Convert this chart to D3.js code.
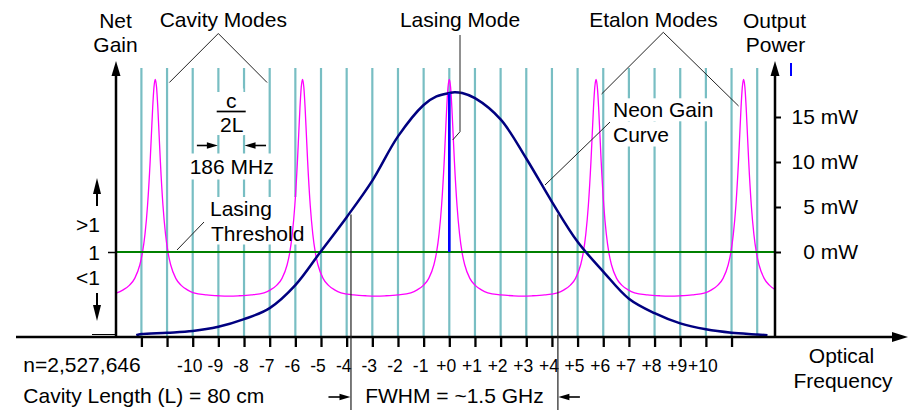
<!DOCTYPE html>
<html>
<head>
<meta charset="utf-8">
<script src="https://cdn.jsdelivr.net/npm/d3@7"></script>
<style>
  html, body { margin: 0; padding: 0; background: #fff; }
  svg { display: block; font-family: "Liberation Sans", Arial, Helvetica, sans-serif; }
</style>
</head>
<body>
<svg id="chart" width="914" height="410"></svg>
<script>
// ---- Data -------------------------------------------------------------
// Longitudinal cavity modes, numbered from the lasing mode
const modeNumbers = [-12, -11, -10, -9, -8, -7, -6, -5, -4, -3, -2, -1, 0,
                     1, 2, 3, 4, 5, 6, 7, 8, 9, 10, 11, 12];
const tickModes = [-12, -11, -10, -9, -8, -7, -6, -5, -4, -3, -2, -1, 0,
                   1, 2, 3, 4, 5, 6, 7, 8, 9, 10, 11];
const labelledModes = [-10, -9, -8, -7, -6, -5, -4, -3, -2, -1, 0,
                       1, 2, 3, 4, 5, 6, 7, 8, 9, 10];
const modeSpacingMHz = 186;
const fwhmGHz = 1.5;
const gainCentreMode = 0.2;
const lasingMode = 0;
const thresholdGain = 1;

// Neon gain curve (net gain, threshold = 1) sampled across the modes
const gainModes  = [-12.2, -12, -11, -10, -9, -8, -7, -6, -5, -4, -3, -2, -1, -0.5,
                    0, 0.2, 0.5, 1, 2, 3, 4, 5, 6, 7, 8, 9, 10, 11, 12, 12.4];
const gainValues = [0.02, 0.035, 0.05, 0.07, 0.12, 0.21, 0.34, 0.61, 1.01, 1.41, 1.84, 2.36, 2.73, 2.83,
                    2.87, 2.88, 2.87, 2.81, 2.56, 2.10, 1.59, 1.12, 0.77, 0.45, 0.28, 0.16, 0.09, 0.05, 0.03, 0.02];

// Etalon transmission: peak positions and one peak's profile (offset in modes -> level)
const etalonCentres = [-11.46, -5.72, 0, 5.72, 11.47];
const etalonOffsets = [0, 0.05, 0.1, 0.15, 0.2, 0.3, 0.4, 0.5, 0.6, 0.8, 1.0, 1.25, 1.5, 2.0, 2.5, 2.86];
const etalonLevels  = [3.03, 2.94, 2.70, 2.38, 2.06, 1.55, 1.21, 0.99, 0.85, 0.69, 0.61, 0.555, 0.52, 0.495, 0.485, 0.482];

// Output power axis
const powerTicks = [0, 5, 10, 15];

// ---- Layout -----------------------------------------------------------
const W = 914, H = 410;
const axisY = 337, gainAxisX = 116, powerAxisX = 775, modeTopY = 68;
const FONT = 21, TICK_FONT = 17.5;
const TEAL = "#78bec3", NAVY = "#000080", MAGENTA = "#ff00ff", GREEN = "#008000", BLUE = "#0000ff";

const x = d3.scaleLinear().domain([-12, 12]).range([141.4, 757.2]);
const yGain = d3.scaleLinear().domain([0, 1]).range([axisY, 252]);
const yPower = d3.scaleLinear().domain([0, 15]).range([252, 117]);

const svg = d3.select("#chart");
svg.append("rect").attr("width", W).attr("height", H).attr("fill", "#fff");

const gModes = svg.append("g");
const gMask = svg.append("g");
const gCurves = svg.append("g");
const gAxes = svg.append("g");
const gAnno = svg.append("g");
const gText = svg.append("g");

svg.append("defs").append("clipPath").attr("id", "plotClip")
  .append("rect").attr("x", gainAxisX).attr("y", 0)
  .attr("width", powerAxisX - gainAxisX).attr("height", axisY);

// ---- Cavity mode lines -----------------------------------------------
gModes.selectAll("line").data(modeNumbers).join("line")
  .attr("x1", d => x(d)).attr("x2", d => x(d))
  .attr("y1", axisY).attr("y2", modeTopY)
  .attr("stroke", TEAL).attr("stroke-width", 2.2);

// ---- Curves -----------------------------------------------------------
// Etalon modes
let etalonPts = [];
etalonCentres.forEach(c => {
  etalonOffsets.forEach((o, i) => {
    etalonPts.push([c - o, etalonLevels[i]]);
    if (o > 0) etalonPts.push([c + o, etalonLevels[i]]);
  });
});
etalonPts.sort((a, b) => a[0] - b[0]);
etalonPts = etalonPts.filter((p, i) => i === 0 || p[0] - etalonPts[i - 1][0] > 0.01);

const lineEtalon = d3.line().x(d => x(d[0])).y(d => yGain(d[1])).curve(d3.curveMonotoneX);
const lineGain = d3.line().x(d => x(d[0])).y(d => yGain(d[1])).curve(d3.curveCatmullRom.alpha(0.5));

gCurves.append("path")
  .attr("clip-path", "url(#plotClip)")
  .attr("d", lineEtalon(etalonPts))
  .attr("fill", "none").attr("stroke", MAGENTA).attr("stroke-width", 1.3);

// Lasing threshold
gCurves.append("line")
  .attr("x1", gainAxisX).attr("x2", powerAxisX)
  .attr("y1", yGain(thresholdGain)).attr("y2", yGain(thresholdGain))
  .attr("stroke", GREEN).attr("stroke-width", 2);

// Neon gain curve
gCurves.append("path")
  .attr("d", lineGain(gainModes.map((m, i) => [m, gainValues[i]])))
  .attr("fill", "none").attr("stroke", NAVY).attr("stroke-width", 2.5)
  .attr("stroke-linejoin", "round");

// Lasing mode: rises from threshold up to the gain curve
const lasingGain = gainValues[gainModes.indexOf(lasingMode)];
gCurves.append("line")
  .attr("x1", x(lasingMode)).attr("x2", x(lasingMode))
  .attr("y1", yGain(thresholdGain)).attr("y2", yGain(lasingGain))
  .attr("stroke", BLUE).attr("stroke-width", 2.6);

// ---- Axes ---------------------------------------------------------------
function arrow(g, x1, y1, x2, y2, headLen, headHalf, width, colour) {
  const c = colour || "#000";
  const len = Math.hypot(x2 - x1, y2 - y1);
  const ux = (x2 - x1) / len, uy = (y2 - y1) / len;
  const bx = x2 - ux * headLen, by = y2 - uy * headLen;
  g.append("line").attr("x1", x1).attr("y1", y1).attr("x2", bx + ux).attr("y2", by + uy)
    .attr("stroke", c).attr("stroke-width", width);
  g.append("path")
    .attr("d", `M${x2},${y2}L${bx - uy * headHalf},${by + ux * headHalf}L${bx + uy * headHalf},${by - ux * headHalf}Z`)
    .attr("fill", c);
}

// frequency axis
arrow(gAxes, 16, axisY, 908, axisY, 16, 5, 2.5);
gAxes.append("line").attr("x1", 92).attr("x2", gainAxisX).attr("y1", axisY - 2.5).attr("y2", axisY - 2.5)
  .attr("stroke", "#000").attr("stroke-width", 1);
// gain and power axes
arrow(gAxes, gainAxisX, axisY + 1, gainAxisX, 61, 15, 4.5, 2.5);
arrow(gAxes, powerAxisX, axisY + 1, powerAxisX, 61, 15, 4.5, 2.5);

const xAxis = d3.axisBottom(x).tickValues(tickModes).tickSize(10).tickPadding(12.5)
  .tickFormat(d => labelledModes.includes(d) ? (d < 0 ? "-" + Math.abs(d) : "+" + d) : "");
const gx = gAxes.append("g").attr("transform", `translate(0,${axisY})`).call(xAxis);
gx.select(".domain").remove();
gx.selectAll(".tick line").attr("stroke", "#000").attr("stroke-width", 2.3);
gx.selectAll(".tick text").attr("fill", "#000").attr("dx", -3.5)
  .style("font-size", TICK_FONT + "px").style("font-family", "Liberation Sans, Arial, sans-serif");

const gainAxis = d3.axisLeft(yGain).tickValues([thresholdGain]).tickSize(8).tickPadding(8)
  .tickFormat(d3.format("d"));
const gy = gAxes.append("g").attr("transform", `translate(${gainAxisX},0)`).call(gainAxis);
gy.select(".domain").remove();
gy.selectAll(".tick line").attr("stroke", "#000").attr("stroke-width", 1.5);
gy.selectAll(".tick text").attr("fill", "#000").attr("dy", "0.36em")
  .style("font-size", FONT + "px").style("font-family", "Liberation Sans, Arial, sans-serif");

const powerAxis = d3.axisRight(yPower).tickValues(powerTicks).tickSize(6).tickFormat(d => d + " mW");
const gp = gAxes.append("g").attr("transform", `translate(${powerAxisX},0)`).call(powerAxis);
gp.select(".domain").remove();
gp.selectAll(".tick line").attr("stroke", "#000").attr("stroke-width", 2);
gp.selectAll(".tick text").attr("fill", "#000").attr("x", 83).attr("text-anchor", "end").attr("dy", "0.33em")
  .style("font-size", FONT + "px").style("font-family", "Liberation Sans, Arial, sans-serif");

// small marker on the power scale
gAxes.append("line").attr("x1", 791).attr("x2", 791).attr("y1", 63).attr("y2", 76)
  .attr("stroke", BLUE).attr("stroke-width", 2);

// gain above / below threshold arrows
arrow(gAxes, 97, 206, 97, 178, 16, 4, 2);
arrow(gAxes, 97, 293, 97, 321, 16, 4, 2);

// ---- Text ---------------------------------------------------------------
function text(px, py, str, anchor, size) {
  return gText.append("text").attr("x", px).attr("y", py)
    .attr("text-anchor", anchor || "middle")
    .style("font-size", (size || FONT) + "px").attr("fill", "#000").text(str);
}
// white backing behind a group of text lines so mode lines break around them
function backing(nodes, padX, padY) {
  let x0 = Infinity, y0 = Infinity, x1 = -Infinity, y1 = -Infinity;
  nodes.forEach(n => {
    const b = n.node().getBBox();
    x0 = Math.min(x0, b.x); y0 = Math.min(y0, b.y);
    x1 = Math.max(x1, b.x + b.width); y1 = Math.max(y1, b.y + b.height);
  });
  gMask.append("rect").attr("x", x0 - padX).attr("y", y0 - padY)
    .attr("width", x1 - x0 + 2 * padX).attr("height", y1 - y0 + 2 * padY).attr("fill", "#fff");
}

text(115.5, 27.5, "Net");
text(115.5, 52, "Gain");
text(223.3, 27, "Cavity Modes");
text(460, 27, "Lasing Mode");
text(653.5, 27, "Etalon Modes");
text(774.5, 28, "Output");
text(775.5, 52, "Power");

// c / 2L
const cx = (x(-9) + x(-8)) / 2;
const tc = text(cx, 107.5, "c");
const t2L = text(cx + 0.5, 131.5, "2L");
gText.append("line").attr("x1", cx - 14.5).attr("x2", cx + 14.5).attr("y1", 111.5).attr("y2", 111.5)
  .attr("stroke", "#000").attr("stroke-width", 1.7);
backing([tc, t2L], 0, 0);
gMask.append("rect").attr("x", cx - 18).attr("y", 92).attr("width", 36).attr("height", 43).attr("fill", "#fff");

// mode spacing
const tMHz = text(cx + 0.5, 174, modeSpacingMHz + " MHz");
backing([tMHz], 0, 1.5);
arrow(gAnno, x(-9) - 21.5, 145.5, x(-9) - 0.5, 145.5, 11, 3.2, 1.6);
arrow(gAnno, x(-8) + 22, 145.5, x(-8) + 0.5, 145.5, 11, 3.2, 1.6);

// lasing threshold
const tL = text(210, 216, "Lasing", "start");
const tT = text(211, 240.5, "Threshold", "start");
backing([tL, tT], 0, 0);

// neon gain curve
const tN = text(613, 117.3, "Neon Gain", "start");
const tC = text(613, 141.5, "Curve", "start");
backing([tN], 1.5, 0);
backing([tC], 1.5, 1);

text(gainAxisX - 16, 231.7, ">1", "end");
text(gainAxisX - 16, 285, "<1", "end");

text(23.3, 372, "n=2,527,646", "start");
text(23.3, 403, "Cavity Length (L) = 80 cm", "start");
text(841.5, 362.5, "Optical");
text(843, 388.3, "Frequency");

// FWHM markers from the stated width
const halfWidthModes = fwhmGHz * 1000 / modeSpacingMHz / 2;
const fwL = x(gainCentreMode - halfWidthModes), fwR = x(gainCentreMode + halfWidthModes);
const halfMax = d3.max(gainValues) / 2;
[fwL, fwR].forEach(px => {
  gAnno.append("line").attr("x1", px).attr("x2", px)
    .attr("y1", yGain(halfMax)).attr("y2", H)
    .attr("stroke", "#222").attr("stroke-width", 1.2);
});
arrow(gAnno, fwL - 22.5, 397, fwL - 0.5, 397, 11, 3.2, 1.6);
arrow(gAnno, fwR + 22, 397, fwR + 0.5, 397, 11, 3.2, 1.6);
text((fwL + fwR) / 2, 403, "FWHM = ~" + fwhmGHz + " GHz");

// ---- Leader lines ---------------------------------------------------------
const leader = pts => gAnno.append("path").attr("d", d3.line()(pts))
  .attr("fill", "none").attr("stroke", "#222").attr("stroke-width", 1);
leader([[x(-11) + 2.3, 82.5], [218.3, 33.5], [x(-7) - 2.6, 82.5]]);
leader([[460, 35], [460, 131.7], [x(lasingMode) + 3.4, 140]]);
leader([[x(etalonCentres[3]) + 5.5, 94], [663.3, 32.3], [x(etalonCentres[4]) - 5, 106]]);
leader([[610, 122], [545, 185]]);
leader([[204, 222], [177, 250]]);
</script>
</body>
</html>
